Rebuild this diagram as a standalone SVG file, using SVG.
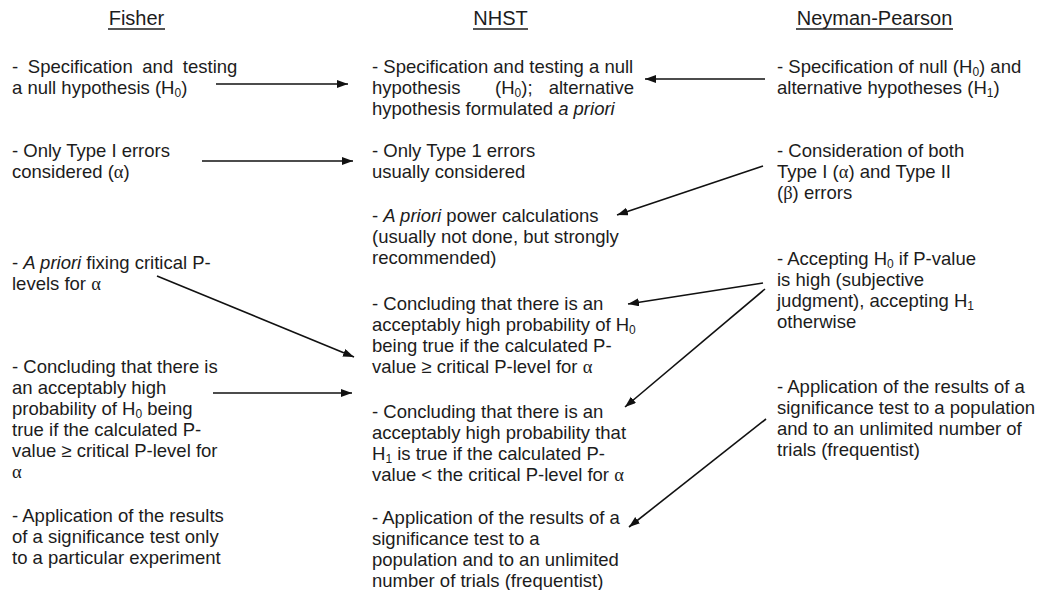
<svg xmlns="http://www.w3.org/2000/svg" width="1038" height="590" viewBox="0 0 1038 590" xml:space="preserve">
<defs>
<style>
text{font-family:"Liberation Sans",Arial,sans-serif;font-size:18.5px;fill:#1c1c1c}
.hd{font-size:20px;text-anchor:middle}
.ul{stroke:#1c1c1c;stroke-width:1.5}
.g{font-family:"Liberation Serif","DejaVu Serif",serif}
.i{font-style:italic}
.s{font-size:12px}
.conn line{stroke:#111;stroke-width:1.6;fill:none}
</style>
<marker id="ah" markerUnits="userSpaceOnUse" markerWidth="12" markerHeight="9" refX="11" refY="4" orient="auto">
<path d="M0,0 L11,4 L0,8 z" fill="#111"/>
</marker>
</defs>
<rect width="1038" height="590" fill="#fff"/>

<g id="headers">
<text class="hd" x="136.5" y="25">Fisher</text>
<line class="ul" x1="108" y1="29" x2="165" y2="29"/>
<text class="hd" x="500.5" y="25">NHST</text>
<line class="ul" x1="473" y1="29" x2="528" y2="29"/>
<text class="hd" x="874.5" y="25">Neyman-Pearson</text>
<line class="ul" x1="796" y1="29" x2="953" y2="29"/>
</g>

<!-- Fisher column -->
<g id="f1">
<text x="12" y="73" word-spacing="4.5">-  Specification and testing</text>
<text x="12" y="94">a null hypothesis (H<tspan class="s" dy="3">0</tspan><tspan dy="-3">)</tspan></text>
</g>
<g id="f2">
<text x="12" y="157">- Only Type I errors</text>
<text x="12" y="178">considered (<tspan class="g">α</tspan>)</text>
</g>
<g id="f3">
<text x="12" y="269">- <tspan class="i">A priori</tspan> fixing critical P-</text>
<text x="12" y="290">levels for <tspan class="g">α</tspan></text>
</g>
<g id="f4">
<text x="12" y="373">-  Concluding that there is</text>
<text x="12" y="394">an acceptably high</text>
<text x="12" y="415">probability of H<tspan class="s" dy="3">0</tspan><tspan dy="-3"> being</tspan></text>
<text x="12" y="436">true if the calculated P-</text>
<text x="12" y="457">value ≥ critical P-level for</text>
<text x="12" y="478" class="g">α</text>
</g>
<g id="f5">
<text x="12" y="522">- Application of the results</text>
<text x="12" y="543">of a significance test only</text>
<text x="12" y="564">to a particular experiment</text>
</g>

<!-- NHST column -->
<g id="n1">
<text x="372" y="73">- Specification and testing a null</text>
<text x="372" y="94">hypothesis</text>
<text x="495" y="94">(H<tspan class="s" dy="3">0</tspan><tspan dy="-3">);</tspan></text>
<text x="634" y="94" text-anchor="end">alternative</text>
<text x="372" y="115">hypothesis formulated <tspan class="i">a priori</tspan></text>
</g>
<g id="n2">
<text x="372" y="157">- Only Type 1 errors</text>
<text x="372" y="178">usually  considered</text>
</g>
<g id="n3">
<text x="372" y="222">- <tspan class="i">A priori</tspan> power calculations</text>
<text x="372" y="243">(usually not done, but strongly</text>
<text x="372" y="264">recommended)</text>
</g>
<g id="n4">
<text x="372" y="310">-  Concluding that there is an</text>
<text x="372" y="331">acceptably high probability of H<tspan class="s" dy="3">0</tspan></text>
<text x="372" y="352">being true if the calculated P-</text>
<text x="372" y="373">value ≥ critical P-level for <tspan class="g">α</tspan></text>
</g>
<g id="n5">
<text x="372" y="418">- Concluding that there is an</text>
<text x="372" y="439">acceptably high probability that</text>
<text x="372" y="460">H<tspan class="s" dy="3">1</tspan><tspan dy="-3"> is true if the calculated P-</tspan></text>
<text x="372" y="481">value &lt; the critical P-level for <tspan class="g">α</tspan></text>
</g>
<g id="n6">
<text x="372" y="524">- Application of the results of a</text>
<text x="372" y="545">significance test to a</text>
<text x="372" y="566">population and to an unlimited</text>
<text x="372" y="587">number of trials (frequentist)</text>
</g>

<!-- Neyman-Pearson column -->
<g id="p1">
<text x="777" y="73">- Specification of null (H<tspan class="s" dy="3">0</tspan><tspan dy="-3">) and</tspan></text>
<text x="777" y="94">alternative hypotheses (H<tspan class="s" dy="3">1</tspan><tspan dy="-3">)</tspan></text>
</g>
<g id="p2">
<text x="777" y="157">- Consideration of both</text>
<text x="777" y="178">Type I (<tspan class="g">α</tspan>) and Type II</text>
<text x="777" y="199">(<tspan class="g">β</tspan>) errors</text>
</g>
<g id="p3">
<text x="777" y="265">- Accepting H<tspan class="s" dy="3">0</tspan><tspan dy="-3">  if P-value</tspan></text>
<text x="777" y="286">is high (subjective</text>
<text x="777" y="307">judgment), accepting H<tspan class="s" dy="3">1</tspan></text>
<text x="777" y="328">otherwise</text>
</g>
<g id="p4">
<text x="777" y="393">- Application of the results of a</text>
<text x="777" y="414">significance test to a population</text>
<text x="777" y="435">and to an unlimited number of</text>
<text x="777" y="456">trials (frequentist)</text>
</g>

<g id="connectors" class="conn">
<line x1="216" y1="84" x2="348" y2="84" marker-end="url(#ah)"/>
<line x1="202" y1="161" x2="353" y2="161" marker-end="url(#ah)"/>
<line x1="157" y1="276" x2="354" y2="357" marker-end="url(#ah)"/>
<line x1="213" y1="393" x2="352" y2="393" marker-end="url(#ah)"/>
<line x1="765" y1="79" x2="645" y2="79" marker-end="url(#ah)"/>
<line x1="763" y1="166" x2="617" y2="215" marker-end="url(#ah)"/>
<line x1="763" y1="283" x2="628" y2="304" marker-end="url(#ah)"/>
<line x1="765" y1="289" x2="625" y2="407" marker-end="url(#ah)"/>
<line x1="766" y1="419" x2="629" y2="527" marker-end="url(#ah)"/>
</g>
</svg>
